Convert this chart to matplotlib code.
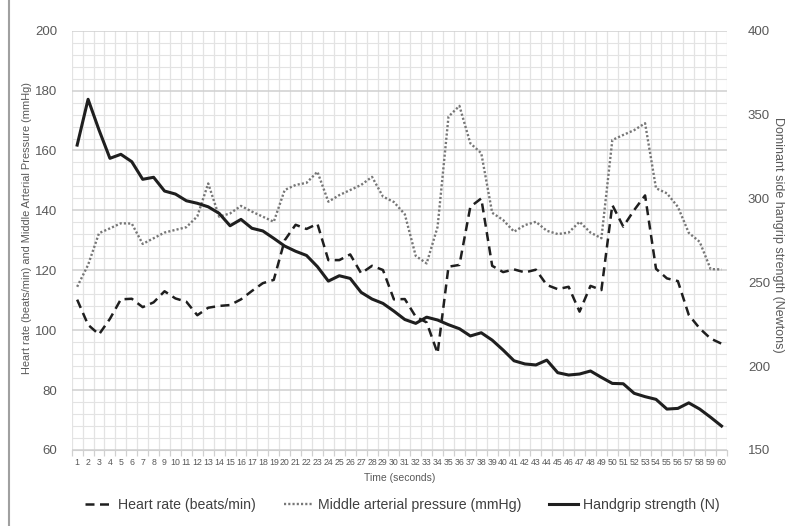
import matplotlib
matplotlib.use('Agg')
import matplotlib.pyplot as plt
from matplotlib.lines import Line2D

plt.rcParams['font.family'] = ['Liberation Sans', 'DejaVu Sans']

seconds = list(range(1, 61))

heart_rate = [110.2, 101.8, 98.6, 103.8, 110.3, 110.5, 107.7, 109.3, 113.0, 110.6,
              109.5, 105.0, 107.5, 108.1, 108.4, 110.3, 113.1, 115.7, 116.8, 130.0,
              135.2, 133.8, 135.5, 123.4, 123.4, 125.3, 119.0, 121.5, 120.1, 110.3,
              110.4, 104.5, 102.6, 92.3, 121.2, 121.8, 141.2, 144.0, 121.5, 119.4,
              120.3, 119.3, 120.2, 115.1, 113.7, 114.5, 106.2, 114.8, 113.4, 141.8,
              134.6, 140.1, 145.0, 120.5, 117.3, 116.4, 105.1, 100.6, 97.2, 95.5]

arterial_pressure = [114.5, 121.8, 132.4, 134.0, 135.7, 135.6, 128.8, 130.7, 132.6, 133.5,
                     134.4, 138.0, 149.0, 137.9, 139.0, 141.5, 139.6, 137.9, 136.2, 146.8,
                     148.5, 149.2, 152.9, 142.9, 145.1, 146.8, 148.5, 151.2, 144.6, 142.8,
                     138.7, 124.8, 122.3, 134.5, 171.3, 174.9, 162.4, 159.1, 139.2, 136.8,
                     132.9, 135.1, 136.2, 133.2, 132.1, 132.6, 136.2, 132.6, 130.7, 163.5,
                     165.2, 166.8, 169.1, 147.4, 145.7, 141.2, 132.5, 129.5, 120.4, 120.3]

handgrip = [331.8, 359.1, 340.8, 323.9, 326.3, 321.9, 311.4, 312.6, 304.4, 302.6,
            298.6, 297.1, 295.0, 291.1, 283.7, 287.5, 282.2, 280.6, 276.2, 271.6,
            268.5, 266.0, 259.3, 250.7, 253.9, 252.3, 244.0, 240.0, 237.4, 232.8,
            227.8, 225.5, 229.2, 227.5, 224.7, 222.3, 218.0, 219.9, 215.5, 209.6,
            203.2, 201.3, 200.7, 203.6, 196.1, 194.7, 195.3, 197.1, 193.3, 189.7,
            189.5, 183.8, 181.8, 180.2, 174.4, 174.8, 178.1, 174.4, 169.5, 164.3]

left_ticks = [60, 80, 100, 120, 140, 160, 180, 200]
right_ticks = [150, 200, 250, 300, 350, 400]

txt = '#595959'
grid_major = '#d0d0d0'
grid_minor = '#e3e3e3'

fig = plt.figure(figsize=(8, 5.26), dpi=100)
ax = fig.add_axes([71.7 / 800, 1 - 450 / 526, (727 - 71.7) / 800, (450 - 30.7) / 526])
ax2 = ax.twinx()

# grid
ax.set_xlim(0.5, 60.5)
ax.set_ylim(60, 200)
ax.set_xticks(seconds)
ax.set_xticklabels([str(s) for s in seconds], fontsize=6.3, color=txt)
ax.set_xticks([s + 0.5 for s in [0] + seconds], minor=True)
ax.set_yticks(left_ticks)
ax.set_yticks(range(60, 201, 4), minor=True)
ax.grid(True, axis='x', which='minor', color=grid_minor, lw=0.9)
ax.grid(True, axis='y', which='minor', color=grid_minor, lw=0.8)
ax.grid(True, axis='y', which='major', color=grid_major, lw=1.1)
ax.set_axisbelow(True)
ax.tick_params(axis='x', which='major', length=0, pad=6)
ax.tick_params(axis='x', which='minor', length=4, color=grid_major, width=0.9)
ax.tick_params(axis='y', which='both', length=0, labelsize=9.5, labelcolor=txt, pad=10.5)
for sp in ['top', 'right', 'left']:
    ax.spines[sp].set_visible(False)
for sp in ax2.spines.values():
    sp.set_visible(False)
ax.spines['bottom'].set_color(grid_major)

ax2.set_ylim(150, 400)
ax2.set_yticks(right_ticks)
ax2.tick_params(axis='y', length=0, labelsize=9.5, labelcolor=txt, pad=15)

hr_line, = ax.plot(seconds, heart_rate, color='#1f1f1f', lw=1.8, dashes=(3.6, 2.2),
                   dash_capstyle='butt', solid_joinstyle='round', dash_joinstyle='round')
map_line, = ax.plot(seconds, arterial_pressure, color='#777777', lw=1.7, dashes=(0.9, 0.9),
                    dash_joinstyle='round')
hg_line, = ax2.plot(seconds, handgrip, color='#1f1f1f', lw=2.2, solid_joinstyle='round')

ax.set_xlabel('Time (seconds)', fontsize=7.5, color=txt, labelpad=4)
fig.text(27 / 800, 1 - 228 / 526, 'Heart rate (beats/min) and Middle Arterial Pressure (mmHg)',
         rotation=90, ha='center', va='center', fontsize=7.9, color=txt)
fig.text(778 / 800, 1 - 235 / 526, 'Dominant side hangrip strength (Newtons)',
         rotation=270, ha='center', va='center', fontsize=9, color=txt)

leg = fig.legend([hr_line, map_line, hg_line],
                 ['Heart rate (beats/min)', 'Middle arterial pressure (mmHg)', 'Handgrip strength (N)'],
                 loc='center', bbox_to_anchor=(402 / 800, 1 - 505 / 526), ncol=3, frameon=False,
                 fontsize=10.2, handlelength=2.0, columnspacing=2.0, handletextpad=0.35)
for t in leg.get_texts():
    t.set_color('#404040')

fig.add_artist(Line2D([9 / 800, 9 / 800], [0, 1], color='#a0a0a0', lw=1.5))

fig.savefig('out.png', dpi=100)
